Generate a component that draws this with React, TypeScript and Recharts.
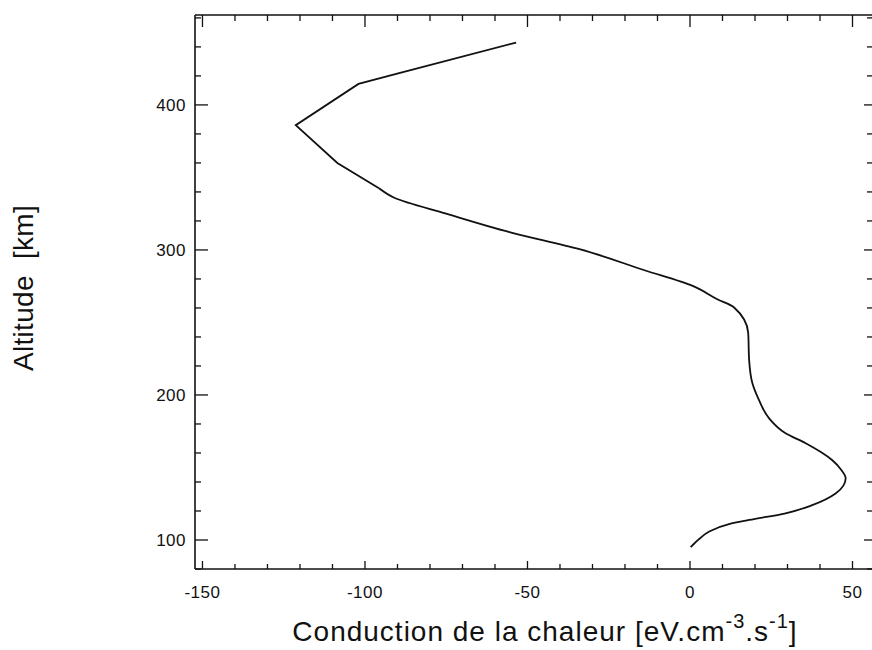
import { ScatterChart, Scatter, XAxis, YAxis, ReferenceLine } from "recharts";

// profile, from the top end of the curve down to 95 km
const altitudeKm = [
  443, 422, 414.5, 386, 360, 342.5, 336, 325, 312, 300.5, 286, 275, 266, 260.5,
  243, 224, 208, 196.6, 184, 173.6, 166.7, 155, 148.5, 142.6, 137.5, 132, 124,
  118.4, 113.8, 111, 105.7, 101, 95,
];
const heatConduction = [
  -53.5, -89.5, -102, -121.3, -108.5, -95.7, -91, -75, -55, -34, -14, 1, 8.4, 13.5,
  17.9, 18.2, 19.2, 21.2, 24.3, 29.4, 35.6, 43.8, 46.5, 47.9, 47.2, 44.8, 37.6,
  29.4, 18.2, 12, 5.8, 3, 0.2,
];

const xTicks = [-150, -140, -130, -120, -110, -100, -90, -80, -70, -60, -50, -40, -30, -20, -10, 0, 10, 20, 30, 40, 50];
const xLabels = [-150, -100, -50, 0, 50];
const yTicks = [80, 100, 120, 140, 160, 180, 200, 220, 240, 260, 280, 300, 320, 340, 360, 380, 400, 420, 440, 460];
const yLabels = [100, 200, 300, 400];
const xDomain = [-152.3, 56];
const yDomain = [80, 462];

// the upper part has sharp corners, the lower part is a smooth curve
const SPLIT = 5;
const points = altitudeKm.map((alt, i) => ({ alt, q: heatConduction[i] }));
const upper = points.slice(0, SPLIT + 1);
const lower = points.slice(SPLIT).reverse();

const W = 872;
const H = 650;
const TOP = 15;
const LEFT = 195;
const BOTTOM = 569;
const RIGHT = 872;

const FONT = "'Liberation Sans', Arial, Helvetica, sans-serif";
const INK = "#111";

// ticks point inwards on all four sides of the frame
function XTick({ x, payload }: any) {
  const major = xLabels.includes(payload.value);
  return (
    <g>
      <line x1={x} x2={x} y1={BOTTOM} y2={BOTTOM - (major ? 8 : 5)} stroke={INK} strokeWidth={1.3} />
      <line x1={x} x2={x} y1={TOP} y2={TOP + (major ? 12 : 6)} stroke={INK} strokeWidth={1.3} />
      {major && (
        <text x={x} y={BOTTOM + 29} textAnchor="middle" fill={INK} fontSize={17} fontFamily={FONT} letterSpacing={0.5}>
          {payload.value}
        </text>
      )}
    </g>
  );
}

function YTick({ y, payload }: any) {
  const major = yLabels.includes(payload.value);
  return (
    <g>
      <line x1={LEFT} x2={LEFT + (major ? 13 : 6)} y1={y} y2={y} stroke={INK} strokeWidth={1.3} />
      <line x1={RIGHT} x2={RIGHT - (major ? 8 : 5)} y1={y} y2={y} stroke={INK} strokeWidth={1.3} />
      {major && (
        <text x={LEFT - 9} y={y + 6} textAnchor="end" fill={INK} fontSize={17} fontFamily={FONT} letterSpacing={0.5}>
          {payload.value}
        </text>
      )}
    </g>
  );
}

const noDot = () => <g />;

export default function App() {
  return (
    <div style={{ position: "absolute", left: 0, top: 0, width: W, height: H, background: "#fff" }}>
      <ScatterChart width={W} height={H} margin={{ top: TOP, right: W - RIGHT, bottom: 0, left: 0 }}>
        <XAxis
          type="number"
          dataKey="q"
          domain={xDomain}
          ticks={xTicks}
          interval={0}
          height={H - BOTTOM}
          tickLine={false}
          tick={<XTick />}
          axisLine={{ stroke: INK, strokeWidth: 1.6 }}
          allowDataOverflow
        />
        <YAxis
          type="number"
          dataKey="alt"
          domain={yDomain}
          ticks={yTicks}
          interval={0}
          width={LEFT}
          tickLine={false}
          tick={<YTick />}
          axisLine={{ stroke: INK, strokeWidth: 1.6 }}
          allowDataOverflow
        />
        <ReferenceLine y={yDomain[1]} stroke={INK} strokeWidth={1.6} ifOverflow="visible" />
        <Scatter
          data={upper}
          line={{ stroke: INK, strokeWidth: 1.8, fill: "none" }}
          lineType="joint"
          shape={noDot}
          isAnimationActive={false}
        />
        <Scatter
          data={lower}
          line={{ stroke: INK, strokeWidth: 1.8, fill: "none" }}
          lineType="joint"
          lineJointType="monotoneY"
          shape={noDot}
          isAnimationActive={false}
        />
      </ScatterChart>
      <svg
        width={W}
        height={H}
        style={{ position: "absolute", left: 0, top: 0, pointerEvents: "none" }}
        fontFamily={FONT}
        fill={INK}
      >
        <text x={545} y={641} textAnchor="middle" fontSize={28} letterSpacing={1}>
          Conduction de la chaleur [eV.cm
          <tspan dy={-13} fontSize={20}>-3</tspan>
          <tspan dy={13}>.s</tspan>
          <tspan dy={-13} fontSize={20}>-1</tspan>
          <tspan dy={13}>]</tspan>
        </text>
        <text
          x={33}
          y={288}
          transform="rotate(-90, 33, 288)"
          textAnchor="middle"
          fontSize={28}
          letterSpacing={0.3}
          xmlSpace="preserve"
        >
          Altitude  [km]
        </text>
      </svg>
    </div>
  );
}
